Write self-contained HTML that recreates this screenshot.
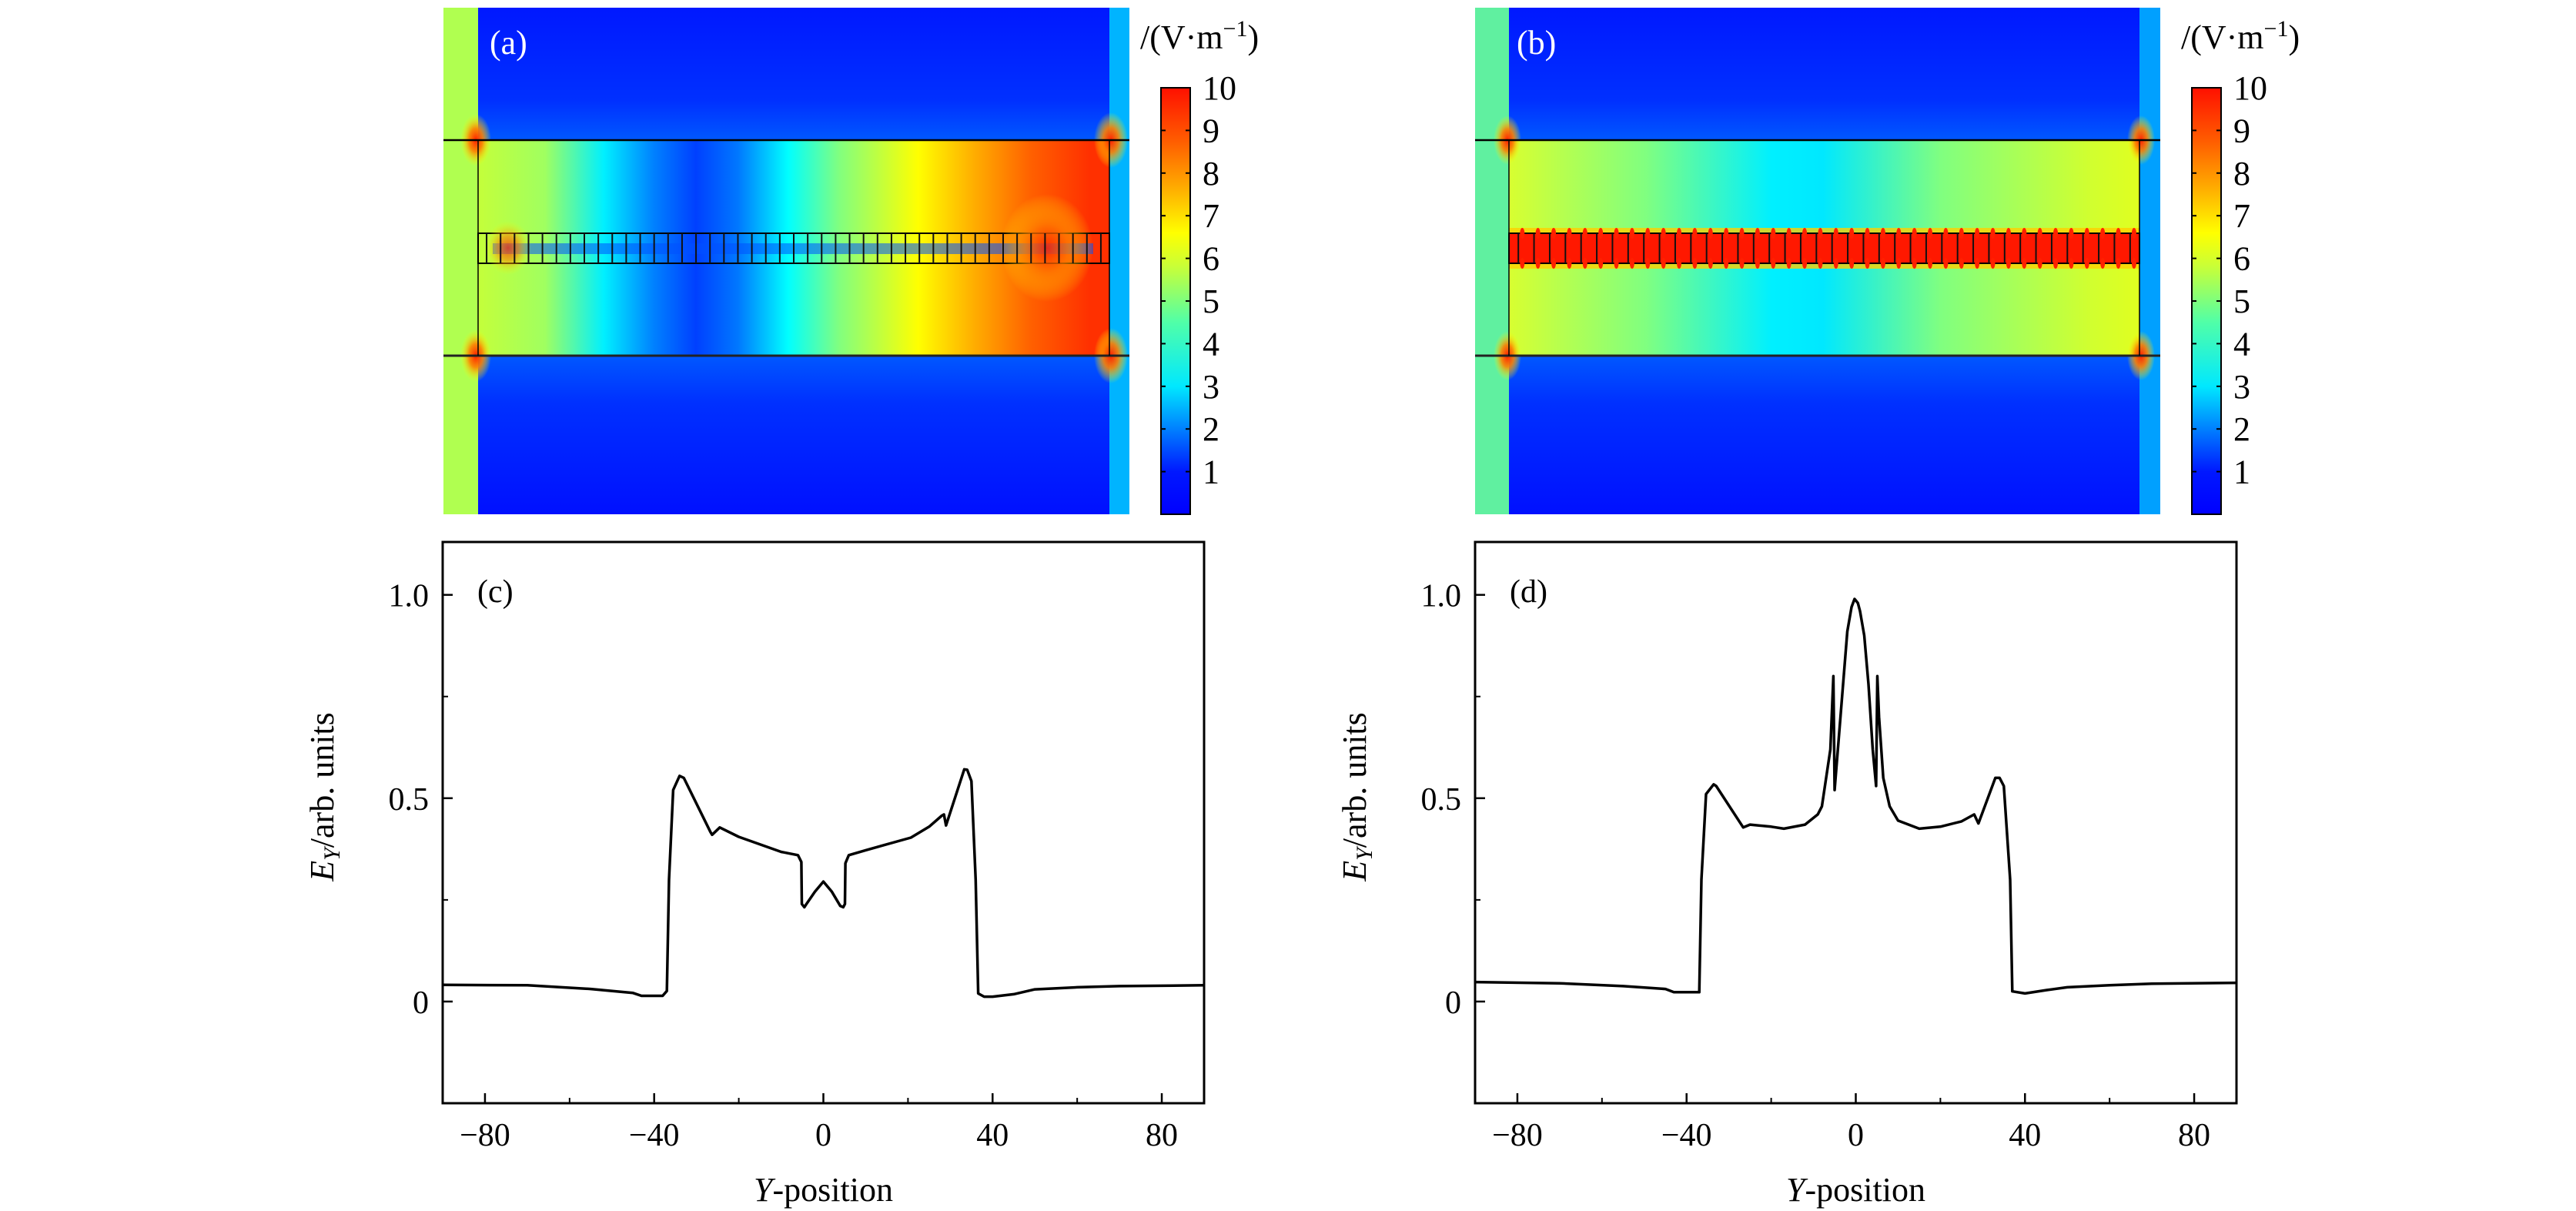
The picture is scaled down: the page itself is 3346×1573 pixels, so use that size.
<!DOCTYPE html>
<html><head><meta charset="utf-8"><style>
html,body{margin:0;padding:0;background:#fff}
svg{display:block}
text{font-family:"Liberation Serif",serif;fill:#000}
</style></head><body>
<svg id="fig" width="3346" height="1573" viewBox="0 0 3346 1573">
<defs>
 <linearGradient id="jet" x1="0" y1="1" x2="0" y2="0">
  <stop offset="0" stop-color="#0000ff"/><stop offset="0.1" stop-color="#0018ff"/>
  <stop offset="0.2" stop-color="#0080ff"/><stop offset="0.3" stop-color="#00e8ff"/>
  <stop offset="0.45" stop-color="#50ffa8"/><stop offset="0.58" stop-color="#c8ff38"/>
  <stop offset="0.66" stop-color="#ffff00"/><stop offset="0.76" stop-color="#ffb000"/>
  <stop offset="0.87" stop-color="#ff6000"/><stop offset="1" stop-color="#ff1000"/>
 </linearGradient>
 <linearGradient id="gA" x1="0" y1="0" x2="1" y2="0">
  <stop offset="0" stop-color="#c4ff3a"/><stop offset="0.106" stop-color="#a0ff60"/>
  <stop offset="0.199" stop-color="#00f0ff"/><stop offset="0.279" stop-color="#0080ff"/>
  <stop offset="0.345" stop-color="#0040ff"/><stop offset="0.412" stop-color="#0078ff"/>
  <stop offset="0.491" stop-color="#00ffff"/><stop offset="0.571" stop-color="#80ff80"/>
  <stop offset="0.697" stop-color="#ffff00"/><stop offset="0.783" stop-color="#ffb000"/>
  <stop offset="0.876" stop-color="#ff6000"/><stop offset="0.969" stop-color="#ff3000"/>
  <stop offset="1" stop-color="#ff3000"/>
 </linearGradient>
 <linearGradient id="gB" x1="0" y1="0" x2="1" y2="0">
  <stop offset="0" stop-color="#d8ff30"/><stop offset="0.217" stop-color="#80ff80"/>
  <stop offset="0.416" stop-color="#00f0ff"/><stop offset="0.498" stop-color="#00e8ff"/>
  <stop offset="0.685" stop-color="#80ff80"/><stop offset="0.919" stop-color="#d0ff30"/>
  <stop offset="1" stop-color="#e0ff20"/>
 </linearGradient>
 <linearGradient id="topBlue" x1="0" y1="0" x2="0" y2="1">
  <stop offset="0" stop-color="#0018ff"/><stop offset="0.7" stop-color="#0030ff"/><stop offset="1" stop-color="#0058ff"/>
 </linearGradient>
 <linearGradient id="botBlue" x1="0" y1="0" x2="0" y2="1">
  <stop offset="0" stop-color="#0058ff"/><stop offset="0.3" stop-color="#0030ff"/><stop offset="1" stop-color="#0010ff"/>
 </linearGradient>
 <radialGradient id="glow">
  <stop offset="0" stop-color="#ff2000"/><stop offset="0.45" stop-color="#ff8000" stop-opacity="0.9"/>
  <stop offset="1" stop-color="#ffff00" stop-opacity="0"/>
 </radialGradient>
</defs>

<g>
 <rect x="576" y="10" width="45" height="658" fill="#b0ff50"/>
 <rect x="1441" y="10" width="26" height="658" fill="#00b4ff"/>
 <rect x="621" y="10" width="820" height="172" fill="url(#topBlue)"/>
 <rect x="621" y="462" width="820" height="206" fill="url(#botBlue)"/>
 <rect x="621" y="182" width="820" height="280" fill="url(#gA)"/>
 <rect x="621" y="303" width="820" height="39" fill="url(#gA)" stroke="#000" stroke-width="2"/>
 <rect x="640" y="316" width="780" height="14" fill="#0050ff" opacity="0.55"/>
 <ellipse cx="1360" cy="322" rx="60" ry="70" fill="url(#glow)" opacity="0.8"/>
 <ellipse cx="660" cy="322" rx="30" ry="35" fill="url(#glow)" opacity="0.7"/>
 <g id="stripesA"></g>
 <ellipse cx="618" cy="182" rx="20" ry="34" fill="url(#glow)"/>
 <ellipse cx="618" cy="462" rx="20" ry="34" fill="url(#glow)"/>
 <ellipse cx="1443" cy="182" rx="22" ry="36" fill="url(#glow)"/>
 <ellipse cx="1443" cy="462" rx="22" ry="36" fill="url(#glow)"/>
 <line x1="576" y1="182" x2="1467" y2="182" stroke="#000" stroke-width="2.5"/>
 <line x1="576" y1="462" x2="1467" y2="462" stroke="#222" stroke-width="3"/>
 <line x1="621" y1="182" x2="621" y2="462" stroke="#000" stroke-width="1.5"/>
 <line x1="1441" y1="182" x2="1441" y2="462" stroke="#000" stroke-width="1.5"/>
 <text x="636" y="70" font-size="44" style="fill:#fff">(a)</text>
</g>
<g>
 <rect x="1508" y="114" width="38" height="554" fill="url(#jet)" stroke="#000" stroke-width="2"/>
 <g id="cbTicksA"></g>
 <text x="1481" y="63" font-size="44">/(V·m<tspan dy="-16" font-size="30">−1</tspan><tspan dy="16">)</tspan></text>
</g>

<g>
 <rect x="1916" y="10" width="44" height="658" fill="#60f0a0"/>
 <rect x="2779" y="10" width="27" height="658" fill="#00a0ff"/>
 <rect x="1960" y="10" width="819" height="172" fill="url(#topBlue)"/>
 <rect x="1960" y="462" width="819" height="206" fill="url(#botBlue)"/>
 <rect x="1960" y="182" width="819" height="280" fill="url(#gB)"/>
 <rect x="1960" y="296" width="819" height="53" fill="#ffd000" opacity="0.8"/>
 <rect x="1960" y="303" width="819" height="39" fill="#ff1800" stroke="#000" stroke-width="2"/>
 <g id="stripesB"></g>
 <ellipse cx="1958" cy="182" rx="18" ry="32" fill="url(#glow)"/>
 <ellipse cx="1958" cy="462" rx="18" ry="32" fill="url(#glow)"/>
 <ellipse cx="2781" cy="182" rx="18" ry="32" fill="url(#glow)"/>
 <ellipse cx="2781" cy="462" rx="18" ry="32" fill="url(#glow)"/>
 <line x1="1916" y1="182" x2="2806" y2="182" stroke="#000" stroke-width="2.5"/>
 <line x1="1916" y1="462" x2="2806" y2="462" stroke="#222" stroke-width="3"/>
 <line x1="1960" y1="182" x2="1960" y2="462" stroke="#000" stroke-width="1.5"/>
 <line x1="2779" y1="182" x2="2779" y2="462" stroke="#000" stroke-width="1.5"/>
 <text x="1970" y="70" font-size="44" style="fill:#fff">(b)</text>
</g>
<g>
 <rect x="2847" y="114" width="38" height="554" fill="url(#jet)" stroke="#000" stroke-width="2"/>
 <g id="cbTicksB"></g>
 <text x="2833" y="63" font-size="44">/(V·m<tspan dy="-16" font-size="30">−1</tspan><tspan dy="16">)</tspan></text>
</g>

<g id="plotC"></g>
<g id="plotD"></g>
</svg>
<script>
const NS="http://www.w3.org/2000/svg";
const xTicks=[-80,-40,0,40,80];
const xMinor=[-60,-20,20,60];
const yTicks=[0,0.5,1.0];
const yTickLabels=["0","0.5","1.0"];
const yMinor=[0.25,0.75];
const cbTicks=[1,2,3,4,5,6,7,8,9,10];
const cX=[-90,-70,-55,-45,-43,-38,-37,-36.5,-35.5,-34,-33,-26.7,-26.3,-24.5,-20,-10,-6,-5.2,-5.1,-4.5,-4,-2,0,2,4,4.7,5.1,5.2,6,10,20.7,25,28,28.5,29,33.3,34,35,36,36.6,38,40,45,50,60,70,90];
const cY=[0.041,0.040,0.031,0.021,0.014,0.014,0.026,0.30,0.52,0.555,0.55,0.417,0.41,0.428,0.405,0.368,0.36,0.343,0.24,0.232,0.24,0.27,0.295,0.27,0.235,0.232,0.24,0.34,0.36,0.372,0.403,0.43,0.457,0.46,0.433,0.571,0.57,0.542,0.30,0.02,0.012,0.012,0.018,0.03,0.035,0.038,0.04];
const dX=[-90,-70,-55,-45,-43,-37,-36.5,-35.4,-33.6,-33,-26.6,-25,-20,-17,-12,-9,-8,-7,-6,-5.3,-5,-4,-3,-2,-1,-0.3,0.5,1,2,3,4,4.8,5.1,5.5,6.5,8,10,15,20,25,28,29,33,34,35,36.5,37,40,45,50,60,70,90];
const dY=[0.048,0.045,0.038,0.031,0.023,0.023,0.30,0.51,0.534,0.53,0.428,0.435,0.43,0.425,0.435,0.46,0.48,0.55,0.62,0.80,0.52,0.65,0.78,0.91,0.97,0.99,0.98,0.96,0.90,0.78,0.62,0.53,0.80,0.70,0.55,0.48,0.445,0.425,0.43,0.443,0.46,0.438,0.55,0.55,0.53,0.30,0.025,0.02,0.028,0.035,0.04,0.044,0.046];

function mk(tag,attrs,parent){const e=document.createElementNS(NS,tag);for(const k in attrs)e.setAttribute(k,attrs[k]);parent.appendChild(e);return e;}

function cbar(gid,x0,labelX){
 const g=document.getElementById(gid);
 const cb=v=>668-(v/10)*554;
 cbTicks.forEach(v=>{
  const y=cb(v);
  mk('line',{x1:x0,y1:y,x2:x0+6,y2:y,stroke:'#000','stroke-width':2},g);
  mk('line',{x1:x0+38,y1:y,x2:x0+32,y2:y,stroke:'#000','stroke-width':2},g);
  const t=mk('text',{x:labelX,y:y+15,'font-size':44},g);
  
  
  t.textContent=String(v);
 });
}
cbar('cbTicksA',1508,1562);
cbar('cbTicksB',2847,2901);

function stripes(gid,x0,x1,n,dots){
 const g=document.getElementById(gid);
 const w=(x1-x0)/n;
 for(let i=0;i<n;i++){
  const x=x0+w*(i+0.5);
  if(dots){mk('ellipse',{cx:x+w/4,cy:303,rx:3,ry:7,fill:dots},g);mk('ellipse',{cx:x+w/4,cy:342,rx:3,ry:7,fill:dots},g);}
  mk('line',{x1:x,y1:303,x2:x,y2:342,stroke:'#111','stroke-width':2},g);
 }
}
stripes('stripesA',623,1439,45,null);
stripes('stripesB',1962,2777,40,'#ff2000');

function plot(gid,left,xs,ys,panel){
 const g=document.getElementById(gid);
 const right=left+989,top=704,bottom=1433;
 const xS=v=>left+(v+90)/180*(right-left);
 const yS=v=>bottom-(v+0.25)/1.38*(bottom-top);
 mk('rect',{x:left,y:top,width:right-left,height:bottom-top,fill:'none',stroke:'#000','stroke-width':3},g);
 xTicks.forEach(v=>{
  mk('line',{x1:xS(v),y1:bottom,x2:xS(v),y2:bottom-13,stroke:'#000','stroke-width':2.5},g);
  const t=mk('text',{x:xS(v),y:1488,'font-size':42,'text-anchor':'middle'},g);
  
  
  t.textContent=v<0?'−'+Math.abs(v):String(v);
 });
 xMinor.forEach(v=>mk('line',{x1:xS(v),y1:bottom,x2:xS(v),y2:bottom-7,stroke:'#000','stroke-width':2},g));
 yTicks.forEach((v,i)=>{
  mk('line',{x1:left,y1:yS(v),x2:left+13,y2:yS(v),stroke:'#000','stroke-width':2.5},g);
  const t=mk('text',{x:left-18,y:yS(v)+15,'font-size':42,'text-anchor':'end'},g);
  
  
  t.textContent=yTickLabels[i];
 });
 yMinor.forEach(v=>mk('line',{x1:left,y1:yS(v),x2:left+7,y2:yS(v),stroke:'#000','stroke-width':2},g));
 const pts=xs.map((v,i)=>xS(v).toFixed(1)+','+yS(ys[i]).toFixed(1)).join(' ');
 const pl=mk('polyline',{points:pts,fill:'none',stroke:'#000','stroke-width':3.5,'stroke-linejoin':'round'},g);
 
 
 const pt=mk('text',{x:left+45,y:782,'font-size':42},g);
 
 
 pt.textContent=panel;
 const xl=mk('text',{x:(left+right)/2,y:1560,'font-size':44,'text-anchor':'middle'},g);
 
 
 xl.innerHTML='<tspan font-style="italic">Y</tspan>-position';
 const yl=mk('text',{x:0,y:0,'font-size':44,'text-anchor':'middle',transform:`translate(${left-142},1035) rotate(-90)`},g);
 
 
 yl.innerHTML='<tspan font-style="italic">E</tspan><tspan font-style="italic" font-size="30" dy="8">Y</tspan><tspan dy="-8">/arb. units</tspan>';
}
plot('plotC',575,cX,cY,'(c)');
plot('plotD',1916,dX,dY,'(d)');
</script>
</body></html>
